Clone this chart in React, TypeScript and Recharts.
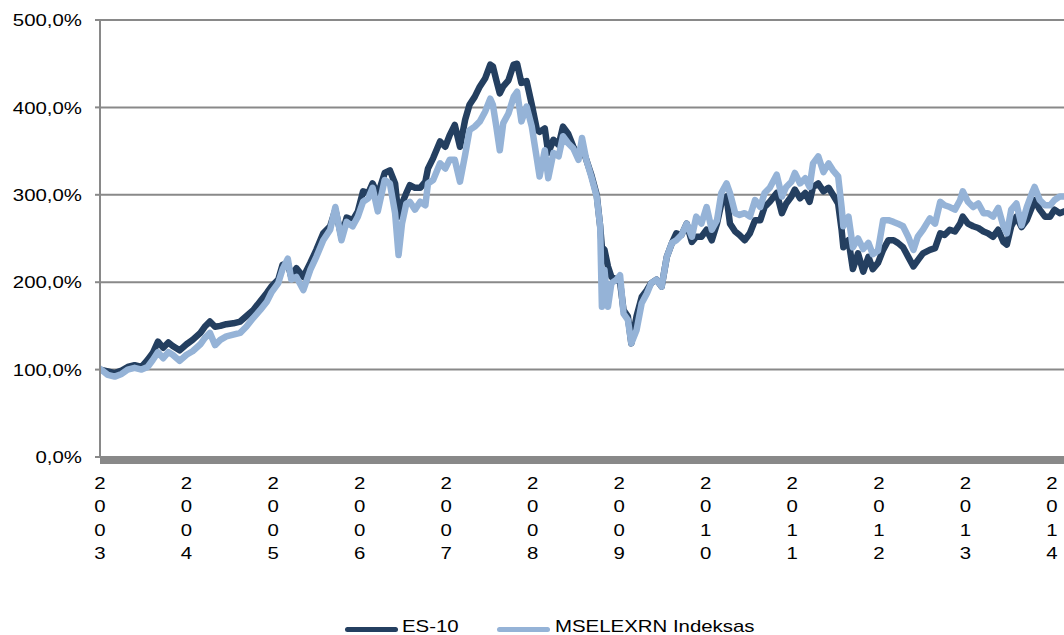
import React from "react";
import { LineChart, Line, XAxis, YAxis, CartesianGrid, Legend } from "recharts";

// decimal years
const dates = [
  2003.0, 2003.09, 2003.17, 2003.25, 2003.32, 2003.4, 2003.48, 2003.55, 2003.61, 2003.67, 2003.73, 2003.79, 2003.84, 2003.92,
  2004.0, 2004.07, 2004.16, 2004.21, 2004.27, 2004.33, 2004.39, 2004.46, 2004.54, 2004.62, 2004.69, 2004.77, 2004.85, 2004.93,
  2004.98, 2005.06, 2005.11, 2005.17, 2005.21, 2005.27, 2005.35, 2005.43, 2005.5, 2005.58, 2005.66, 2005.72, 2005.79, 2005.85, 2005.92, 2005.98,
  2006.04, 2006.1, 2006.15, 2006.21, 2006.29, 2006.35, 2006.41, 2006.45, 2006.49, 2006.54, 2006.58, 2006.64, 2006.7, 2006.76, 2006.79, 2006.85, 2006.93, 2006.99,
  2007.04, 2007.1, 2007.16, 2007.22, 2007.27, 2007.33, 2007.39, 2007.45, 2007.51, 2007.54, 2007.58, 2007.62, 2007.66, 2007.72, 2007.78, 2007.82, 2007.87, 2007.93, 2007.99,
  2008.05, 2008.08, 2008.14, 2008.18, 2008.24, 2008.3, 2008.35, 2008.41, 2008.47, 2008.53, 2008.57, 2008.62, 2008.68, 2008.74, 2008.78, 2008.8, 2008.83, 2008.87, 2008.91, 2008.97,
  2009.01, 2009.05, 2009.1, 2009.14, 2009.2, 2009.26, 2009.32, 2009.37, 2009.43, 2009.49, 2009.55, 2009.61, 2009.66, 2009.72, 2009.78, 2009.84, 2009.89, 2009.95,
  2010.01, 2010.07, 2010.13, 2010.18, 2010.24, 2010.28, 2010.34, 2010.39, 2010.45, 2010.51, 2010.57, 2010.63, 2010.68, 2010.74, 2010.82, 2010.88, 2010.93, 2010.99,
  2011.03, 2011.09, 2011.15, 2011.2, 2011.24, 2011.3, 2011.36, 2011.42, 2011.47, 2011.53, 2011.57, 2011.59, 2011.65, 2011.7, 2011.76, 2011.82, 2011.88, 2011.93, 2011.99,
  2012.05, 2012.11, 2012.17, 2012.22, 2012.28, 2012.34, 2012.4, 2012.45, 2012.51, 2012.59, 2012.65, 2012.71, 2012.76, 2012.82, 2012.88, 2012.94, 2012.97,
  2013.03, 2013.09, 2013.15, 2013.21, 2013.26, 2013.32, 2013.38, 2013.44, 2013.48, 2013.53, 2013.59, 2013.65, 2013.71, 2013.77, 2013.8, 2013.86, 2013.92, 2013.98,
  2014.03, 2014.09, 2014.14,
];

const es10 = [
  100, 98, 96, 99, 103, 105, 103, 111, 119, 132, 125, 131, 127, 122,
  129, 134, 142, 149, 155, 149, 150, 152, 153, 155, 161, 168, 178, 188,
  195, 203, 220, 222, 206, 216, 206, 222, 237, 256, 264, 283, 252, 274, 271, 281,
  304, 302, 313, 300, 325, 328, 313, 275, 290, 302, 311, 308, 308, 315, 330, 342, 361, 355,
  368, 380, 355, 386, 403, 412, 424, 433, 449, 447, 431, 416, 424, 431, 449, 450, 428, 430, 403,
  374, 372, 376, 348, 363, 357, 378, 370, 355, 344, 355, 340, 322, 300, 264, 240, 237, 218, 206, 203,
  200, 168, 161, 130, 161, 183, 191, 199, 203, 195, 229, 245, 256, 254, 267, 246, 252, 252,
  260, 248, 267, 290, 298, 267, 258, 254, 248, 256, 271, 271, 286, 292, 302, 279, 290, 298,
  306, 296, 302, 292, 309, 313, 304, 308, 300, 290, 260, 240, 248, 215, 233, 212, 229, 215, 222,
  237, 248, 248, 245, 240, 229, 218, 225, 233, 237, 239, 256, 254, 260, 258, 267, 275,
  267, 264, 262, 258, 256, 252, 260, 246, 243, 264, 275, 263, 271, 286, 294, 283, 275, 275,
  283, 279, 281,
];

const mselexrn = [
  101, 94, 92, 95, 100, 102, 100, 103, 111, 120, 113, 120, 117, 110,
  117, 121, 129, 136, 142, 128, 134, 138, 140, 142, 149, 159, 168, 178,
  188, 199, 215, 227, 203, 206, 191, 214, 229, 248, 260, 286, 248, 269, 264, 275,
  292, 296, 308, 281, 317, 313, 279, 231, 267, 290, 292, 283, 292, 288, 313, 317, 336, 330,
  340, 340, 315, 346, 374, 378, 384, 395, 410, 403, 378, 351, 382, 393, 412, 418, 384, 401, 378,
  340, 321, 351, 319, 348, 344, 367, 359, 353, 340, 365, 340, 320, 298, 264, 172, 214, 172, 199, 203,
  208, 164, 157, 130, 145, 176, 187, 199, 203, 195, 229, 245, 248, 254, 267, 252, 275, 267,
  286, 260, 271, 302, 313, 302, 279, 277, 279, 275, 294, 286, 302, 308, 323, 298, 309, 315,
  325, 313, 319, 309, 336, 344, 326, 336, 328, 321, 286, 264, 275, 240, 250, 238, 245, 232, 236,
  271, 271, 269, 267, 264, 252, 237, 252, 260, 273, 267, 292, 288, 286, 283, 294, 304,
  292, 286, 290, 279, 279, 275, 285, 264, 256, 283, 290, 265, 286, 302, 309, 294, 288, 288,
  294, 298, 298,
];

const yearTicks = [2003, 2004, 2005, 2006, 2007, 2008, 2009, 2010, 2011, 2012, 2013, 2014];
const valueTicks = [0, 100, 200, 300, 400, 500];

const seriesNames = { es10: "ES-10", mselexrn: "MSELEXRN Indeksas" };

const DARK = "#243F60";
const LIGHT = "#95B3D7";
const GRID = "#898989";
const FONT = '"Liberation Sans", Arial, sans-serif';

const data = dates.map((t, i) => ({ t, es10: es10[i], mselexrn: mselexrn[i] }));

const fmtPct = (v: number) => v.toFixed(1).replace(".", ",") + "%";

function YTick(props: any) {
  const { x, y, payload } = props;
  return (
    <g transform={`translate(${x},${y})`}>
      <text transform="scale(1.2,1)" textAnchor="end" dy="0.36em" fontSize={17} fontFamily={FONT} fill="#000">
        {fmtPct(payload.value)}
      </text>
    </g>
  );
}

function XTick(props: any) {
  const { x, y, payload } = props;
  const chars = String(payload.value).split("");
  return (
    <g transform={`translate(${x},${y})`}>
      {chars.map((c, i) => (
        <text
          key={i}
          x={0}
          y={32 + i * 23.5}
          transform="scale(1.2,1)"
          textAnchor="middle"
          fontSize={17}
          fontFamily={FONT}
          fill="#000"
        >
          {c}
        </text>
      ))}
    </g>
  );
}

function LegendBox() {
  const lineStyle = (color: string, left: number): React.CSSProperties => ({
    position: "absolute",
    left,
    top: 16,
    width: 53,
    height: 5,
    borderRadius: 3,
    background: color,
  });
  const textStyle = (left: number): React.CSSProperties => ({
    position: "absolute",
    left,
    top: 6,
    whiteSpace: "nowrap",
    transform: "scaleX(1.2)",
    transformOrigin: "left center",
    lineHeight: "normal",
  });
  return (
    <div style={{ position: "relative", height: 24, width: 1064, fontFamily: FONT, fontSize: 17, color: "#000" }}>
      <span style={lineStyle(DARK, 345)} />
      <span style={textStyle(402)}>{seriesNames.es10}</span>
      <span style={lineStyle(LIGHT, 497)} />
      <span style={textStyle(555)}>{seriesNames.mselexrn}</span>
    </div>
  );
}

export default function App() {
  return (
    <div style={{ width: 1064, height: 635, overflow: "hidden", background: "#fff" }}>
      <style>{`body{margin:0}`}</style>
      <LineChart width={1064} height={635} data={data} margin={{ top: 20, right: 0, bottom: 0, left: 0 }}>
        <CartesianGrid vertical={false} stroke={GRID} strokeWidth={2} />
        <XAxis
          dataKey="t"
          type="number"
          domain={[2003, 2014.14]}
          ticks={yearTicks}
          interval={0}
          height={154}
          tickLine={false}
          tickSize={0}
          tickMargin={0}
          axisLine={{ stroke: GRID, strokeWidth: 7, transform: "translate(0,3.5)" }}
          tick={<XTick />}
          allowDataOverflow
        />
        <YAxis
          type="number"
          domain={[0, 500]}
          ticks={valueTicks}
          width={100}
          tickSize={5}
          tickMargin={13}
          axisLine={{ stroke: GRID, strokeWidth: 2 }}
          tickLine={{ stroke: GRID, strokeWidth: 2 }}
          tick={<YTick />}
        />
        <Legend verticalAlign="bottom" content={<LegendBox />} />
        <Line
          type="linear"
          dataKey="es10"
          name={seriesNames.es10}
          stroke={DARK}
          strokeWidth={6.5}
          strokeLinejoin="round"
          strokeLinecap="round"
          dot={false}
          isAnimationActive={false}
        />
        <Line
          type="linear"
          dataKey="mselexrn"
          name={seriesNames.mselexrn}
          stroke={LIGHT}
          strokeWidth={6.5}
          strokeLinejoin="round"
          strokeLinecap="round"
          dot={false}
          isAnimationActive={false}
        />
      </LineChart>
    </div>
  );
}
